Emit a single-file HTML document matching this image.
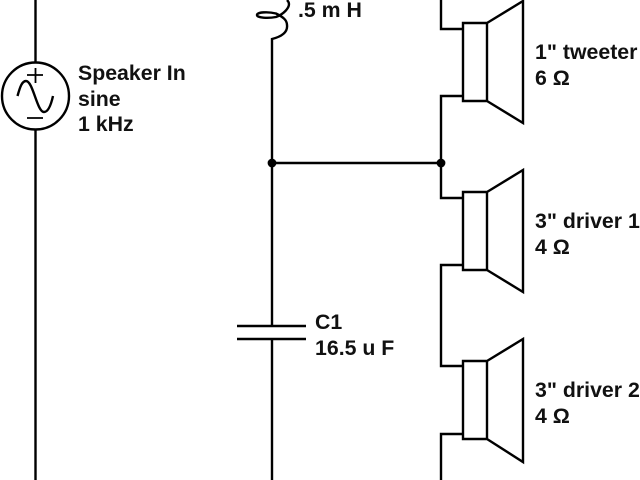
<!DOCTYPE html>
<html>
<head>
<meta charset="utf-8">
<style>
html,body{margin:0;padding:0;background:#fff;width:640px;height:480px;overflow:hidden}
svg{display:block}
text{font-family:"Liberation Sans",sans-serif;font-weight:bold;font-size:21.3px;fill:#111}
</style>
</head>
<body>
<svg width="640" height="480" viewBox="0 0 640 480" xmlns="http://www.w3.org/2000/svg">
<g fill="none" stroke="#000" stroke-width="2.4">
  <!-- source -->
  <path d="M35.5 0V62M35.5 130V480"/>
  <circle cx="35.5" cy="96" r="33.5"/>
  <path d="M27 75H43M35.5 68V83M27 118H43" stroke-width="1.8"/>
  <path d="M17.5 96C20 87 22 81 26 81C33 81 37 112 44 112C48 112 51 105 53 96"/>
  <!-- inductor + main wire -->
  <path d="M272 480V339M272 326V39C280 37 288 33 287 25C287 20 283 17 276 13.5C268 11.5 257 12 257 15C257 18 268 18.5 276 17C284 14 289 8 289 4C289 2 288 1 287 0"/>
  <!-- capacitor -->
  <path d="M237 326H306M237 339H306"/>
  <!-- bus -->
  <path d="M272 163H441"/>
  <!-- speaker wiring -->
  <path d="M441 0V29H463M463 96H441V198H463M463 265H441V366H463M463 434H441V480"/>
  <!-- speakers -->
  <path d="M463 23H487V101H463ZM487 23L523 1V123L487 101"/>
  <path d="M463 192H487V270H463ZM487 192L523 170V292L487 270"/>
  <path d="M463 361H487V439H463ZM487 361L523 339V462L487 439"/>
</g>
<circle cx="272" cy="163" r="4.4" fill="#000"/>
<circle cx="441" cy="163" r="4.4" fill="#000"/>
<text x="78" y="80">Speaker In</text>
<text x="78" y="106">sine</text>
<text x="78" y="131">1 kHz</text>
<text x="298" y="17">.5 m H</text>
<text x="315" y="329">C1</text>
<text x="315" y="355">16.5 u F</text>
<text x="535" y="59">1" tweeter</text>
<text x="535" y="85">6 Ω</text>
<text x="535" y="228">3" driver 1</text>
<text x="535" y="254">4 Ω</text>
<text x="535" y="397">3" driver 2</text>
<text x="535" y="423">4 Ω</text>
</svg>
</body>
</html>
